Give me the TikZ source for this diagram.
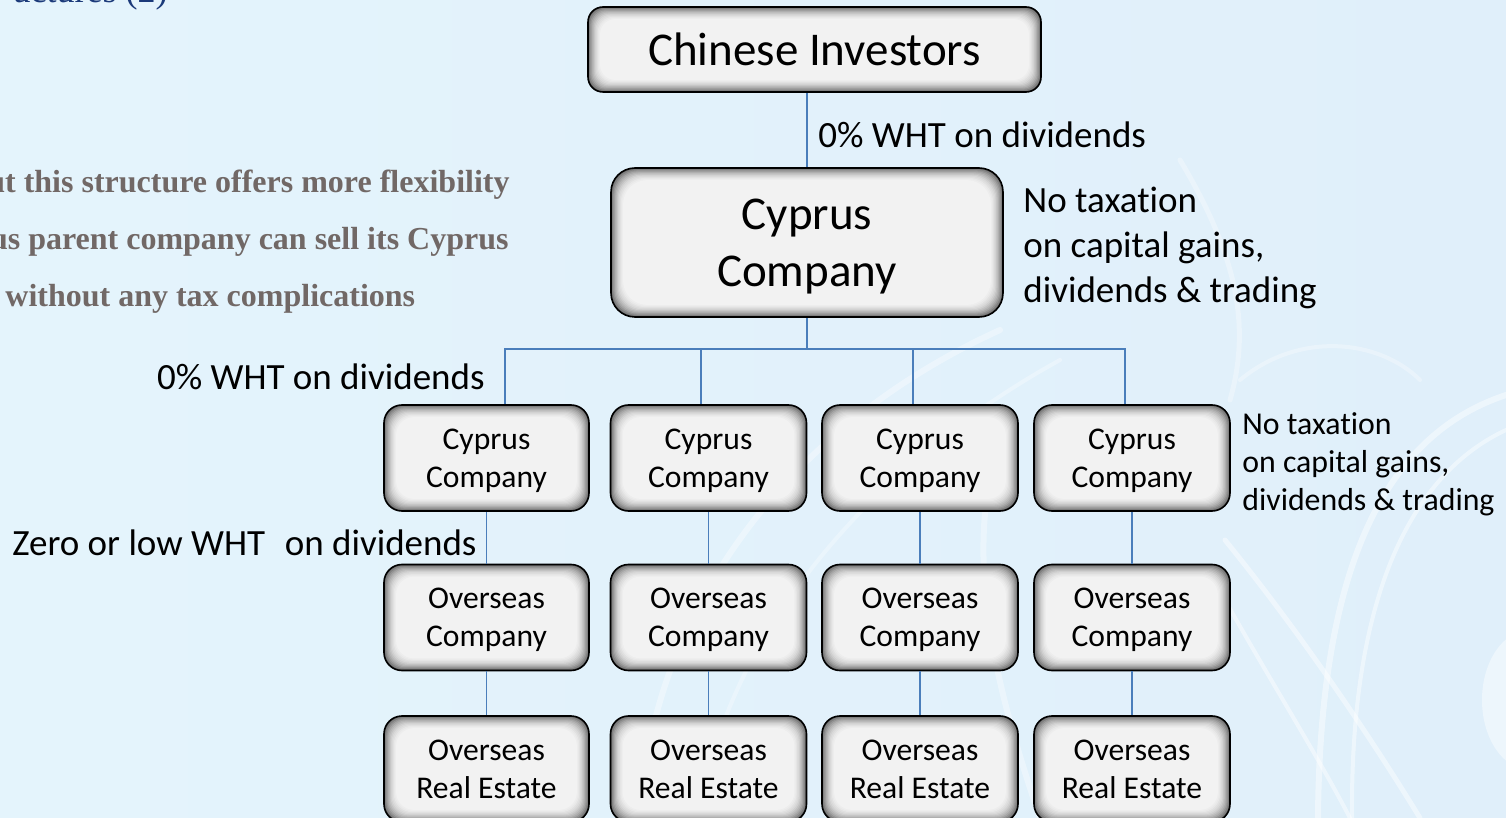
\documentclass[tikz,border=0pt]{standalone}
\usepackage{fontspec}
\setmainfont{Carlito}[Ligatures={NoCommon,NoContextual,NoRare}, Contextuals=NoAlternate]
\newfontfamily\slideserif{Liberation Serif}

\definecolor{bgblue}{HTML}{E4F4FC}
\definecolor{bgblueb}{HTML}{E0EFFA}
\definecolor{linkblue}{HTML}{4A7EBB}
\definecolor{slidegray}{HTML}{716866}
\definecolor{titleblue}{HTML}{1B3A7A}

\tikzset{
  % rounded grey box with a soft inner shadow along its edges
  shadowbox/.style={draw=black, line width=0.8pt, rounded corners=#1,
    inner sep=0pt, align=center, text depth=0pt, fill=white!95!black,
    path picture={
      \foreach \k/\c in {0/42,1/50,2/58,3/65,4/71,5/76,6/81,7/85,8/88,9/91,10/93,11/95}{
        \fill[white!\c!black, rounded corners=#1]
          ([xshift=\k*0.55pt, yshift=-\k*0.55pt]path picture bounding box.north west)
          rectangle ([xshift=-\k*0.55pt, yshift=\k*0.55pt]path picture bounding box.south east);
      }
    }},
  bigbox/.style={shadowbox=12pt, font=\fontsize{23.5}{28.5}\selectfont},
  unitbox/.style={shadowbox=9pt, minimum width=98pt, minimum height=53pt,
    font=\fontsize{15.8}{19}\selectfont},
  conn/.style={draw=linkblue, line width=0.9pt, line join=miter},
  note/.style={inner sep=0pt, align=left, font=\fontsize{18.5}{22.5}\selectfont},
  smallnote/.style={inner sep=0pt, align=left, font=\fontsize{15.9}{19}\selectfont},
  bullet/.style={inner sep=0pt, text=slidegray, font=\slideserif\bfseries\fontsize{16}{19}\selectfont},
  swirl/.style={draw=white, line cap=round, opacity=#1},
  swirl/.default=0.45
}

\begin{document}
\begin{tikzpicture}[x=0.5pt, y=-0.5pt]
  \useasboundingbox (0,0) rectangle (1506,818);
  \clip (0,0) rectangle (1506,818);

  % backdrop
  \shade[left color=bgblue, right color=bgblueb] (0,0) rectangle (1506,818);

  % decorative white strands
  \draw[swirl, line width=3pt] (1506,395) .. controls (1400,430) and (1320,540) .. (1318,818);
  \draw[swirl, line width=2pt] (1506,430) .. controls (1420,470) and (1350,580) .. (1352,818);
  \draw[swirl, line width=2.5pt] (1225,540) .. controls (1290,620) and (1360,720) .. (1420,818);
  \draw[swirl, line width=2pt] (1225,600) .. controls (1270,680) and (1320,760) .. (1350,818);
  \fill[white, opacity=0.45] (1530,700) ellipse (48 and 70);
  \draw[swirl=0.35, line width=3pt] (640,818) .. controls (650,620) and (780,430) .. (1000,330);
  \draw[swirl=0.3, line width=2pt] (700,818) .. controls (720,650) and (860,470) .. (1060,360);
  \draw[swirl=0.35, line width=3pt] (1040,818) .. controls (1000,700) and (960,560) .. (1000,440);
  \draw[swirl=0.3, line width=2.5pt] (1180,160) .. controls (1240,260) and (1250,330) .. (1230,400);
  \draw[swirl=0.3, line width=2pt] (1240,380) .. controls (1300,330) and (1380,340) .. (1420,380);

  % slide text partly hidden behind the frame edge
  \node[inner sep=0pt, anchor=base east, text=titleblue,
        font=\slideserif\fontsize{18}{20}\selectfont] (title) at (168,3) {uctures (2)};
  \node[bullet, anchor=base east] (b1) at (510,193) {ut this structure offers more flexibility};
  \node[bullet, anchor=base east] (b2) at (509,250) {us parent company can sell its Cyprus};
  \node[bullet, anchor=base west] (b3) at (5,307) {without any tax complications};

  % ownership chain
  \node[bigbox, shadowbox=7.5pt, minimum width=226.5pt, minimum height=42.5pt] (ci) at (814.5,49.5) {Chinese Investors};
  \node[bigbox, minimum width=196pt, minimum height=74.5pt] (cc) at (807,242.5) {Cyprus\\Company};

  \node[unitbox, minimum width=102.5pt] (cp1) at (486.5,458) {Cyprus\\Company};
  \node[unitbox] (cp2) at (708.5,458) {Cyprus\\Company};
  \node[unitbox] (cp3) at (920,458) {Cyprus\\Company};
  \node[unitbox] (cp4) at (1132,458) {Cyprus\\Company};

  \node[unitbox, minimum width=102.5pt] (oc1) at (486.5,617.5) {Overseas\\Company};
  \node[unitbox] (oc2) at (708.5,617.5) {Overseas\\Company};
  \node[unitbox] (oc3) at (920,617.5) {Overseas\\Company};
  \node[unitbox] (oc4) at (1132,617.5) {Overseas\\Company};

  \node[unitbox, minimum width=102.5pt] (re1) at (486.5,769) {Overseas\\Real Estate};
  \node[unitbox] (re2) at (708.5,769) {Overseas\\Real Estate};
  \node[unitbox] (re3) at (920,769) {Overseas\\Real Estate};
  \node[unitbox] (re4) at (1132,769) {Overseas\\Real Estate};

  % connectors
  \draw[conn] (cc.north) -- (cc.north |- ci.south);
  \coordinate (hub) at (807,349);
  \coordinate (t1) at (505,349);
  \coordinate (t2) at (701,349);
  \coordinate (t3) at (913,349);
  \coordinate (t4) at (1125,349);
  \draw[conn] (cc.south) -- (hub);
  \draw[conn] (t1 |- cp1.north) -- (t1) -- (t4) -- (t4 |- cp4.north);
  \draw[conn] (t2) -- (t2 |- cp2.north);
  \draw[conn] (t3) -- (t3 |- cp3.north);
  \foreach \i in {1,2,3,4}{
    \draw[conn] (cp\i.south) -- (oc\i.north);
    \draw[conn] (oc\i.south) -- (re\i.north);
  }

  % tax notes
  \node[note, anchor=base west] (wht1) at (818,148) {0\% WHT on dividends};
  \node[note, anchor=west] (notax1) at (1023,247.5) {No taxation\\on capital gains,\\dividends \& trading};
  \node[note, anchor=base east] (wht2) at (485,390) {0\% WHT on dividends};
  \node[smallnote, anchor=west] (notax2) at (1242,464.5) {No taxation\\on capital gains,\\dividends \& trading};
  \node[note, anchor=base west] (wht3) at (12,555) {Zero or low WHT\ \hspace{1.5pt}\ on dividends};
\end{tikzpicture}
\end{document}
